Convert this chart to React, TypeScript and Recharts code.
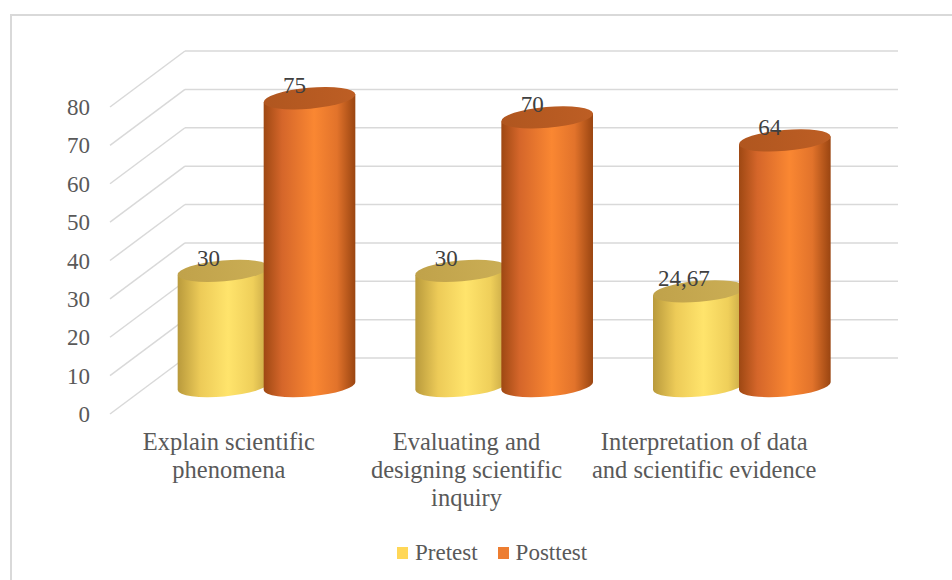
import React from 'react';
import { BarChart, Bar, XAxis, YAxis, CartesianGrid, LabelList, Legend } from 'recharts';

// ---- data ----
const categories = [
  'Explain scientific phenomena',
  'Evaluating and designing scientific inquiry',
  'Interpretation of data and scientific evidence',
];
const categoryLines = [
  ['Explain scientific', 'phenomena'],
  ['Evaluating and', 'designing scientific', 'inquiry'],
  ['Interpretation of data', 'and scientific evidence'],
];
const pretestScores = [30, 30, 24.67];
const posttestScores = [75, 70, 64];
const yTicks = [0, 10, 20, 30, 40, 50, 60, 70, 80];
const seriesNames = ['Pretest', 'Posttest'];
const seriesColors = ['#FFD757', '#ED7D31'];

const data = categories.map((category, i) => ({
  category,
  pretest: pretestScores[i],
  posttest: posttestScores[i],
}));

// ---- layout ----
const W = 952;
const H = 580;
const MARGIN = { top: 107, right: 129, bottom: 66, left: 50 };
const Y_AXIS_W = 60;
const X_AXIS_H = 100;
// depth of the 3D box (front plane -> back wall)
const DEPTH_X = 75;
const DEPTH_Y = 56;
const FONT = "'Liberation Serif', 'Times New Roman', serif";

// perspective grid: diagonal on the side wall + horizontal line on the back wall
const GridLine = (props: any) => {
  const { x1, x2, y1 } = props;
  return (
    <g>
      <line x1={x1} y1={y1} x2={x1 + DEPTH_X} y2={y1 - DEPTH_Y} stroke="#D9D9D9" strokeWidth={1.5} />
      <line x1={x1 + DEPTH_X} y1={y1 - DEPTH_Y} x2={x2 + DEPTH_X} y2={y1 - DEPTH_Y} stroke="#D9D9D9" strokeWidth={1.5} />
    </g>
  );
};

const ValueTick = (props: any) => {
  const { x, y, payload } = props;
  return (
    <text x={x - 20} y={y} dy="0.35em" textAnchor="end" fontFamily={FONT} fontSize={23} fill="#595959">
      {payload.value}
    </text>
  );
};

const CategoryTick = (props: any) => {
  const { x, y, payload } = props;
  const lines = categoryLines[payload.index] ?? [String(payload.value)];
  return (
    <text x={x} y={y} textAnchor="middle" fontFamily={FONT} fontSize={24.5} fill="#595959">
      {lines.map((line, i) => (
        <tspan key={i} x={x} y={y + 36 + i * 28}>
          {line}
        </tspan>
      ))}
    </text>
  );
};

// cylinder sitting at mid depth of the box
const ROT = -5;
const RY = 10.5;
const makeCylinder = (bodyId: string, topId: string) => (props: any) => {
  const { x, y, width, height } = props;
  if (width == null || height == null) return null;
  const cx = x + width / 2 + DEPTH_X / 2;
  const rx = width / 2;
  const topY = y - DEPTH_Y / 2;
  const botY = y + height - DEPTH_Y / 2;
  const rad = (ROT * Math.PI) / 180;
  const ex = rx * Math.cos(rad);
  const ey = rx * Math.sin(rad);
  const d = `M ${cx - ex} ${topY - ey} L ${cx - ex} ${botY - ey} A ${rx} ${RY} ${ROT} 0 0 ${cx + ex} ${botY + ey} L ${cx + ex} ${topY + ey} Z`;
  return (
    <g>
      <path d={d} fill={`url(#${bodyId})`} />
      <ellipse cx={cx} cy={topY} rx={rx} ry={RY} transform={`rotate(${ROT} ${cx} ${topY})`} fill={`url(#${topId})`} />
    </g>
  );
};

const ValueLabel = (props: any) => {
  const { x, y, width, value } = props;
  const cx = x + width / 2 + DEPTH_X / 2 - 15;
  const topY = y - DEPTH_Y / 2;
  return (
    <text x={cx} y={topY - 5} textAnchor="middle" fontFamily={FONT} fontSize={23} fill="#404040">
      {String(value).replace('.', ',')}
    </text>
  );
};

const LegendContent = () => (
  <div style={{ display: 'flex', alignItems: 'center', fontFamily: FONT, fontSize: 23, color: '#595959', lineHeight: '26px' }}>
    {seriesNames.map((name, i) => (
      <div key={name} style={{ display: 'flex', alignItems: 'center', marginRight: i === 0 ? 20 : 0 }}>
        <span style={{ display: 'inline-block', width: 11, height: 12, background: seriesColors[i], marginRight: 7 }} />
        <span>{name}</span>
      </div>
    ))}
  </div>
);

export default function App() {
  return (
    <div style={{ position: 'absolute', left: 0, top: 0, width: W, height: H, background: '#fff', overflow: 'hidden' }}>
      <div style={{ position: 'absolute', left: 10, top: 14, width: 1200, height: 900, border: '2px solid #D9D9D9' }} />
      <div style={{ position: 'absolute', left: 0, top: 0 }}>
        <BarChart width={W} height={H} data={data} margin={MARGIN} barSize={92} barGap={-6}>
          <defs>
            <linearGradient id="preBody" x1="0" y1="0" x2="1" y2="0">
              <stop offset="0" stopColor="#B99A3C" />
              <stop offset="0.25" stopColor="#EDCB58" />
              <stop offset="0.55" stopColor="#FFE46C" />
              <stop offset="0.82" stopColor="#EFCF5A" />
              <stop offset="1" stopColor="#C4A444" />
            </linearGradient>
            <linearGradient id="preTop" x1="0" y1="0" x2="1" y2="0">
              <stop offset="0" stopColor="#C0A24A" />
              <stop offset="1" stopColor="#CBAE55" />
            </linearGradient>
            <linearGradient id="postBody" x1="0" y1="0" x2="1" y2="0">
              <stop offset="0" stopColor="#9E4813" />
              <stop offset="0.2" stopColor="#D5662A" />
              <stop offset="0.55" stopColor="#FA8732" />
              <stop offset="0.8" stopColor="#E2732B" />
              <stop offset="1" stopColor="#9A4511" />
            </linearGradient>
            <linearGradient id="postTop" x1="0" y1="0" x2="1" y2="0">
              <stop offset="0" stopColor="#B0561F" />
              <stop offset="1" stopColor="#BD5E24" />
            </linearGradient>
          </defs>
          <CartesianGrid vertical={false} horizontal={GridLine} stroke="#D9D9D9" />
          <XAxis
            dataKey="category"
            axisLine={false}
            tickLine={false}
            tickSize={0}
            tickMargin={0}
            interval={0}
            height={X_AXIS_H}
            tick={CategoryTick}
          />
          <YAxis
            type="number"
            domain={[0, 80]}
            ticks={yTicks}
            interval={0}
            axisLine={false}
            tickLine={false}
            tickSize={0}
            tickMargin={0}
            width={Y_AXIS_W}
            tick={ValueTick}
          />
          <Bar dataKey="pretest" name={seriesNames[0]} fill={seriesColors[0]} shape={makeCylinder('preBody', 'preTop')} isAnimationActive={false}>
            <LabelList dataKey="pretest" content={ValueLabel} />
          </Bar>
          <Bar dataKey="posttest" name={seriesNames[1]} fill={seriesColors[1]} shape={makeCylinder('postBody', 'postTop')} isAnimationActive={false}>
            <LabelList dataKey="posttest" content={ValueLabel} />
          </Bar>
          <Legend
            layout="horizontal"
            verticalAlign="middle"
            align="center"
            wrapperStyle={{ top: 540, left: 397, width: 260, height: 26 }}
            content={LegendContent}
          />
        </BarChart>
      </div>
    </div>
  );
}
